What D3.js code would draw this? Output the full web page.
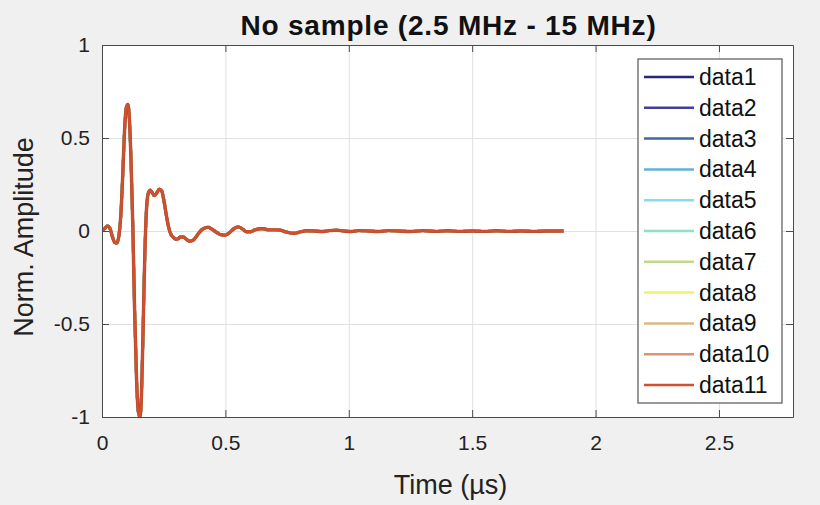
<!DOCTYPE html>
<html>
<head>
<meta charset="utf-8">
<script src="https://cdn.jsdelivr.net/npm/d3@7"></script>
<style>
  html, body { margin: 0; padding: 0; background: #f0f0f0; }
  svg { display: block; font-family: "Liberation Sans", Arial, Helvetica, sans-serif; }
</style>
</head>
<body>
<svg id="chart" width="820" height="505"></svg>
<script>
// ---------- data ----------
const titleText = "No sample (2.5 MHz - 15 MHz)";
const xLabelText = "Time (\u00b5s)";
const yLabelText = "Norm. Amplitude";

const xTicks = [0, 0.5, 1, 1.5, 2, 2.5];
const yTicks = [-1, -0.5, 0, 0.5, 1];
const xTickLabels = ["0", "0.5", "1", "1.5", "2", "2.5"];
const yTickLabels = ["-1", "-0.5", "0", "0.5", "1"];

const seriesNames = ["data1","data2","data3","data4","data5","data6","data7","data8","data9","data10","data11"];
const seriesColors = ["#27277a","#453c9c","#43679f","#62b0d6","#86dcef","#8edfc6",
                      "#c4d88c","#f2ef73","#dab887","#dc9470","#d64d30"];

// time axis (µs) of the recorded pulse
const waveTime = [0.000,0.012,0.022,0.032,0.042,0.052,0.060,0.068,0.076,0.084,0.091,0.098,0.105,0.111,
  0.118,0.125,0.132,0.140,0.147,0.154,0.160,0.166,0.173,0.180,0.188,0.196,0.204,0.212,0.222,0.232,
  0.242,0.250,0.260,0.270,0.280,0.290,0.300,0.310,0.318,0.330,0.342,0.355,0.369,0.382,0.396,0.410,
  0.430,0.448,0.465,0.482,0.500,0.516,0.534,0.552,0.570,0.585,0.600,0.620,0.640,0.655,0.675,0.700,
  0.720,0.740,0.760,0.780,0.800,0.830,0.860,0.890,0.920,0.950,0.980,1.010,1.040,1.080,1.120,1.160,
  1.200,1.250,1.300,1.350,1.400,1.450,1.500,1.550,1.600,1.650,1.700,1.750,1.800,1.840,1.870];
// normalized amplitude (all eleven traces overlap on this curve)
const waveAmp = [0.000,0.015,0.027,0.015,-0.030,-0.062,-0.065,-0.030,0.080,0.300,0.530,0.660,0.680,0.600,
  0.360,0.020,-0.420,-0.800,-0.970,-1.000,-0.880,-0.560,-0.150,0.110,0.205,0.220,0.205,0.190,0.205,0.225,
  0.215,0.170,0.090,0.020,-0.020,-0.035,-0.045,-0.040,-0.032,-0.032,-0.045,-0.055,-0.050,-0.030,-0.005,0.012,
  0.020,0.008,-0.008,-0.020,-0.022,-0.010,0.012,0.022,0.010,-0.004,-0.004,0.006,0.012,0.012,0.006,0.006,
  0.005,-0.003,-0.010,-0.012,-0.006,0.001,0.000,-0.003,0.002,0.004,0.000,-0.003,0.002,0.000,-0.003,0.002,
  0.000,-0.003,0.002,-0.002,0.001,-0.002,0.000,-0.002,0.001,-0.002,0.000,-0.002,0.000,0.000,0.000];

const seriesValues = seriesNames.map(() => waveAmp);

// ---------- layout ----------
const svg = d3.select("#chart");
const W = 820, H = 505;
const plot = { left: 102, right: 793, top: 45, bottom: 417 };
const font = "'Liberation Sans', Arial, Helvetica, sans-serif";

svg.append("rect").attr("width", W).attr("height", H).attr("fill", "#f0f0f0");

const x = d3.scaleLinear().domain([0, 2.8]).range([plot.left, plot.right]);
const y = d3.scaleLinear().domain([-1, 1]).range([plot.bottom, plot.top]);

svg.append("rect")
  .attr("x", plot.left).attr("y", plot.top)
  .attr("width", plot.right - plot.left).attr("height", plot.bottom - plot.top)
  .attr("fill", "#ffffff");

// grid
const gridColor = "#e1e1e1";
svg.append("g")
  .attr("transform", `translate(0,${plot.bottom})`)
  .call(d3.axisBottom(x).tickValues(xTicks).tickSize(-(plot.bottom - plot.top)).tickFormat(""))
  .call(g => g.select(".domain").remove())
  .call(g => g.selectAll("line").attr("stroke", gridColor).attr("stroke-width", 1));
svg.append("g")
  .attr("transform", `translate(${plot.left},0)`)
  .call(d3.axisLeft(y).tickValues(yTicks).tickSize(-(plot.right - plot.left)).tickFormat(""))
  .call(g => g.select(".domain").remove())
  .call(g => g.selectAll("line").attr("stroke", gridColor).attr("stroke-width", 1));

// clip
svg.append("defs").append("clipPath").attr("id", "clip")
  .append("rect")
  .attr("x", plot.left).attr("y", plot.top - 1)
  .attr("width", plot.right - plot.left).attr("height", plot.bottom - plot.top + 2);

// lines
const line = d3.line()
  .x((d, i) => x(waveTime[i]))
  .y(d => y(d))
  .curve(d3.curveMonotoneX);

const linesG = svg.append("g").attr("clip-path", "url(#clip)");
seriesValues.forEach((vals, k) => {
  const last = seriesValues.length - 1;
  linesG.append("path")
    .datum(vals)
    .attr("d", line)
    .attr("fill", "none")
    .attr("stroke", k === last - 1 ? "#a5502c" : seriesColors[k])
    .attr("stroke-width", k === last ? 2.3 : (k === last - 1 ? 3.4 : 2.8))
    .attr("stroke-linejoin", "round");
});

// axes (ticks inward, box)
const axisColor = "#4a4a4a";
const tickLen = 7;
const styleAxis = g => {
  g.select(".domain").attr("stroke", axisColor);
  g.selectAll(".tick line").attr("stroke", axisColor);
  g.selectAll("text").attr("fill", "#222").style("font-family", font).style("font-size", "21px");
};
svg.append("g")
  .attr("transform", `translate(0,${plot.bottom})`)
  .call(d3.axisBottom(x).tickValues(xTicks).tickFormat((d, i) => xTickLabels[i])
        .tickSizeInner(-tickLen).tickSizeOuter(0).tickPadding(18))
  .call(styleAxis);
svg.append("g")
  .attr("transform", `translate(0,${plot.top})`)
  .call(d3.axisTop(x).tickValues(xTicks).tickFormat("").tickSizeInner(-tickLen).tickSizeOuter(0))
  .call(styleAxis);
svg.append("g")
  .attr("transform", `translate(${plot.left},0)`)
  .call(d3.axisLeft(y).tickValues(yTicks).tickFormat((d, i) => yTickLabels[i])
        .tickSizeInner(-tickLen).tickSizeOuter(0).tickPadding(12))
  .call(styleAxis);
svg.append("g")
  .attr("transform", `translate(${plot.right},0)`)
  .call(d3.axisRight(y).tickValues(yTicks).tickFormat("").tickSizeInner(-tickLen).tickSizeOuter(0))
  .call(styleAxis);

// title and labels
svg.append("text")
  .attr("x", (plot.left + plot.right) / 2 + 1).attr("y", 35)
  .attr("text-anchor", "middle")
  .style("font-family", font).style("font-size", "28px").style("font-weight", "bold")
  .style("letter-spacing", "0.8px")
  .attr("fill", "#111")
  .text(titleText);

svg.append("text")
  .attr("x", (plot.left + plot.right) / 2 + 3).attr("y", 494)
  .attr("text-anchor", "middle")
  .style("font-family", font).style("font-size", "27px")
  .attr("fill", "#222")
  .text(xLabelText);

svg.append("text")
  .attr("transform", `translate(33,${(plot.top + plot.bottom) / 2 + 6}) rotate(-90)`)
  .attr("text-anchor", "middle")
  .style("font-family", font).style("font-size", "27px")
  .attr("fill", "#222")
  .text(yLabelText);

// legend
const leg = { x: 638, y: 59, w: 144, h: 344 };
const legG = svg.append("g");
legG.append("rect")
  .attr("x", leg.x).attr("y", leg.y).attr("width", leg.w).attr("height", leg.h)
  .attr("fill", "#ffffff").attr("stroke", "#555").attr("stroke-width", 1.2);
const rowY = d3.scalePoint().domain(seriesNames).range([leg.y + 18, leg.y + leg.h - 18]);
seriesNames.forEach((name, k) => {
  const yy = rowY(name);
  legG.append("line")
    .attr("x1", leg.x + 6).attr("x2", leg.x + 56)
    .attr("y1", yy).attr("y2", yy)
    .attr("stroke", seriesColors[k]).attr("stroke-width", 2.5);
  legG.append("text")
    .attr("x", leg.x + 61).attr("y", yy).attr("dy", "0.35em")
    .style("font-family", font).style("font-size", "23px")
    .attr("fill", "#111")
    .text(name);
});
</script>
</body>
</html>
